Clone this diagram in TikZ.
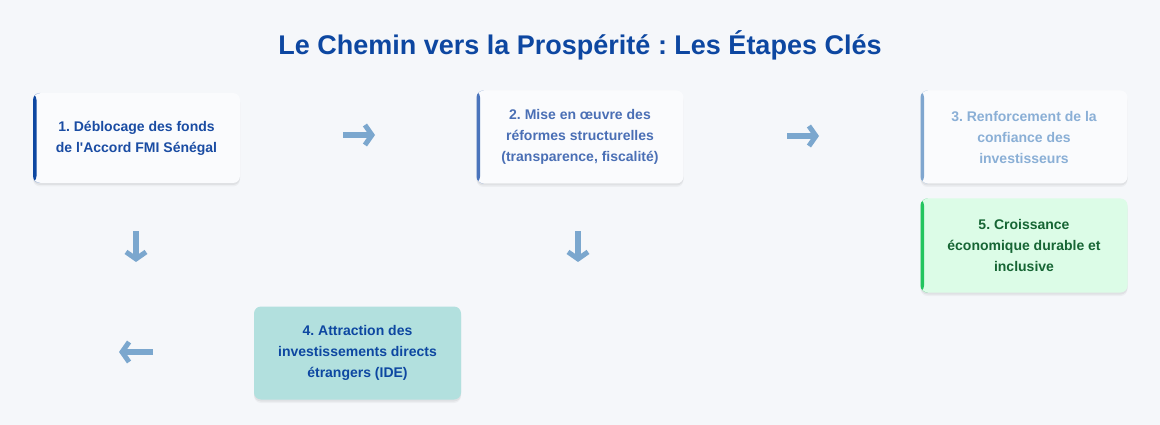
\documentclass[tikz,border=0pt]{standalone}
\usepackage{fontspec}
\setmainfont{Liberation Sans}[Ligatures=TeXOff]
\frenchspacing
\usetikzlibrary{arrows.meta,shadows}
\definecolor{bg}{HTML}{F5F7FA}
\definecolor{boxfill}{HTML}{FAFBFD}
\definecolor{titleblue}{HTML}{0D47A1}
\definecolor{bOne}{HTML}{0D47A1}
\definecolor{tOne}{HTML}{1A4CA3}
\definecolor{bTwo}{HTML}{4A74BC}
\definecolor{tTwo}{HTML}{4A6FB5}
\definecolor{bThree}{HTML}{7FA6CF}
\definecolor{tThree}{HTML}{8AAFD6}
\definecolor{greenfill}{HTML}{DCFCE7}
\definecolor{greenborder}{HTML}{22C55E}
\definecolor{greentext}{HTML}{166534}
\definecolor{tealfill}{HTML}{B2E0DE}
\definecolor{arrowblue}{HTML}{7BA7CE}
\tikzset{
  stepbox/.style={rounded corners=7pt, minimum width=207pt, align=center,
    font=\fontsize{14}{21}\selectfont\bfseries, inner sep=0pt,
    general shadow={shadow xshift=0pt, shadow yshift=-3.5pt, fill=black, opacity=0.035},
    general shadow={shadow xshift=0pt, shadow yshift=-2pt, fill=black, opacity=0.05}},
  leftbar/.style={path picture={\fill[#1] (path picture bounding box.north west) rectangle ([xshift=3.5pt]path picture bounding box.south west);}},
  flowarrow/.style={draw=arrowblue, line width=6pt, -{Straight Barb[length=7pt, width=20pt, line width=5pt]}}
}
\begin{document}
\begin{tikzpicture}[x=1pt,y=-1pt]
\fill[bg] (0,0) rectangle (1160,425);
\useasboundingbox (0,0) rectangle (1160,425);
\node[font=\fontsize{27}{30}\selectfont\bfseries, text=titleblue] (title) at (580,45) {Le Chemin vers la Prospérité : Les Étapes Clés};

\node[stepbox, fill=boxfill, leftbar=bOne, text=tOne, minimum height=90pt] (s1) at (136.5,138) {1. Déblocage des fonds\\de l'Accord FMI Sénégal};
\node[stepbox, fill=boxfill, leftbar=bTwo, text=tTwo, minimum height=93pt] (s2) at (580,137) {2. Mise en œuvre des\\réformes structurelles\\(transparence, fiscalité)};
\node[stepbox, fill=boxfill, leftbar=bThree, text=tThree, minimum height=93pt] (s3) at (1024,137) {3. Renforcement de la\\confiance des\\investisseurs};
\node[stepbox, fill=greenfill, leftbar=greenborder, text=greentext, minimum height=94pt] (s5) at (1024,245.5) {5. Croissance\\économique durable et\\inclusive};
\node[stepbox, fill=tealfill, text=titleblue, minimum height=93pt] (s4) at (357.5,353) {4. Attraction des\\investissements directs\\étrangers (IDE)};

\coordinate (a1s) at (343,135); \coordinate (a1e) at (375,135);
\coordinate (a2s) at (787,136); \coordinate (a2e) at (819,136);
\coordinate (a3s) at (136,231); \coordinate (a3e) at (136,262);
\coordinate (a4s) at (578,231); \coordinate (a4e) at (578,262);
\coordinate (a5s) at (153,352); \coordinate (a5e) at (119,352);
\draw[flowarrow] (a1s) -- (a1e);
\draw[flowarrow] (a2s) -- (a2e);
\draw[flowarrow] (a3s) -- (a3e);
\draw[flowarrow] (a4s) -- (a4e);
\draw[flowarrow] (a5s) -- (a5e);
\end{tikzpicture}
\end{document}
